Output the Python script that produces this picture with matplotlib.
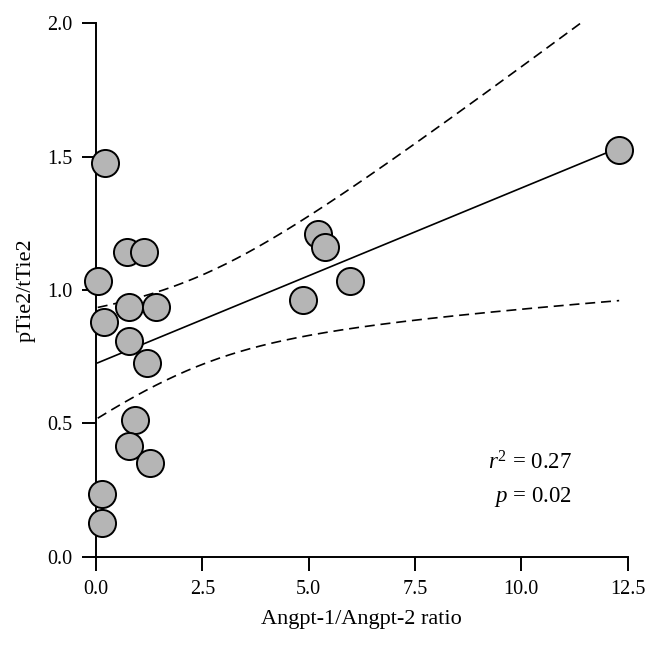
import numpy as np
import matplotlib
matplotlib.use("Agg")
import matplotlib.pyplot as plt

# Angpt-1/Angpt-2 ratio vs pTie2/tTie2
ratio = [0.20, 0.73, 1.13, 0.04, 0.78, 1.41, 5.22, 5.39, 4.86, 0.18,
         0.775, 1.205, 0.92, 0.775, 1.28, 0.13, 0.13, 12.30, 5.96]
ptie = [1.476, 1.144, 1.144, 1.034, 0.935, 0.935, 1.209, 1.162, 0.962, 0.879,
        0.810, 0.726, 0.513, 0.415, 0.352, 0.235, 0.128, 1.525, 1.034]
xticks = [0.0, 2.5, 5.0, 7.5, 10.0, 12.5]
yticks = [0.0, 0.5, 1.0, 1.5, 2.0]
r2_text = "$r^2$ = 0.27"
p_text = "$p$ = 0.02"

plt.rcParams['font.family'] = ['Liberation Serif', 'DejaVu Serif']
plt.rcParams['mathtext.fontset'] = 'custom'
plt.rcParams['mathtext.rm'] = 'Liberation Serif'
plt.rcParams['mathtext.it'] = 'Liberation Serif:italic'

x = np.array(ratio)
y = np.array(ptie)

# least squares fit + 95% confidence band of the mean
n = len(x)
slope, intercept = np.polyfit(x, y, 1)
resid = y - (slope * x + intercept)
s_err = np.sqrt(np.sum(resid ** 2) / (n - 2))
sxx = np.sum((x - x.mean()) ** 2)
t_val = 2.110  # t(0.975, df=17)
xs = np.linspace(x.min(), x.max(), 200)
fit = slope * xs + intercept
half = t_val * s_err * np.sqrt(1.0 / n + (xs - x.mean()) ** 2 / sxx)

fig = plt.figure(figsize=(6.6, 6.45), dpi=100)
ax = fig.add_axes([0.1455, 0.1369, 0.8055, 0.827])

dash = (0, (6, 3.5))
ax.plot(xs, fit, color='black', lw=1.2)
ax.plot(xs, fit + half, color='black', lw=1.2, ls=dash)
ax.plot(xs, fit - half, color='black', lw=1.2, ls=dash)
ax.scatter(x, y, s=380, facecolor='#b5b5b5', edgecolor='black',
           linewidth=1.4, zorder=3, clip_on=False)

ax.set_xlim(0, 12.5)
ax.set_ylim(0, 2.0)
ax.set_xticks(xticks)
ax.set_yticks(yticks)
ax.set_xticklabels(["%.1f" % v for v in xticks])
ax.set_yticklabels(["%.1f" % v for v in yticks])

for side in ['top', 'right']:
    ax.spines[side].set_visible(False)
for side in ['left', 'bottom']:
    ax.spines[side].set_linewidth(1.4)
ax.tick_params(direction='out', length=10, width=1.4, labelsize=14.5, pad=7)

ax.set_xlabel("Angpt-1/Angpt-2 ratio", fontsize=16, labelpad=8)
ax.set_ylabel("pTie2/tTie2", fontsize=16, labelpad=8)

ax.text(11.19, 0.351, r2_text, fontsize=16.5, ha='right', va='center')
ax.text(11.19, 0.224, p_text, fontsize=16.5, ha='right', va='center')

fig.savefig("out.png", dpi=100)
